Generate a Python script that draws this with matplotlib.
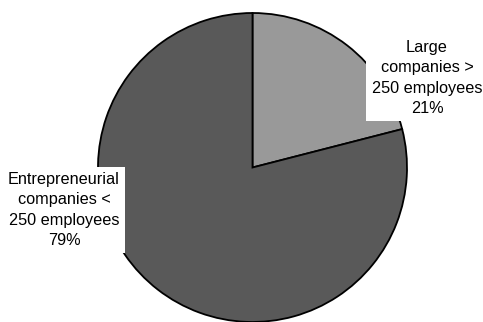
import matplotlib
matplotlib.use("Agg")
import matplotlib.pyplot as plt

categories = ["Large\ncompanies >\n250 employees", "Entrepreneurial\ncompanies <\n250 employees"]
shares = [21, 79]
colors = ["#999999", "#595959"]

W, H = 483, 322
fig = plt.figure(figsize=(W / 100, H / 100), dpi=100)
ax = fig.add_axes([0, 0, 1, 1])

cx, cy, r = 252.5, H - 167.5, 154.5
ax.pie(shares, colors=colors, startangle=90, counterclock=False,
       center=(cx, cy), radius=r, frame=True,
       wedgeprops=dict(edgecolor="black", linewidth=1.3))
ax.set_xlim(0, W)
ax.set_ylim(0, H)
ax.set_aspect("equal")
ax.axis("off")

label_pos = [(427, H - 78), (64, H - 210)]
for cat, val, (x, y) in zip(categories, shares, label_pos):
    ax.text(x, y, f"{cat}\n{val}%", ha="center", va="center",
            fontsize=11.7, family="Liberation Sans", linespacing=1.42,
            bbox=dict(facecolor="white", edgecolor="none", pad=4))

fig.savefig("out.png", dpi=100)
